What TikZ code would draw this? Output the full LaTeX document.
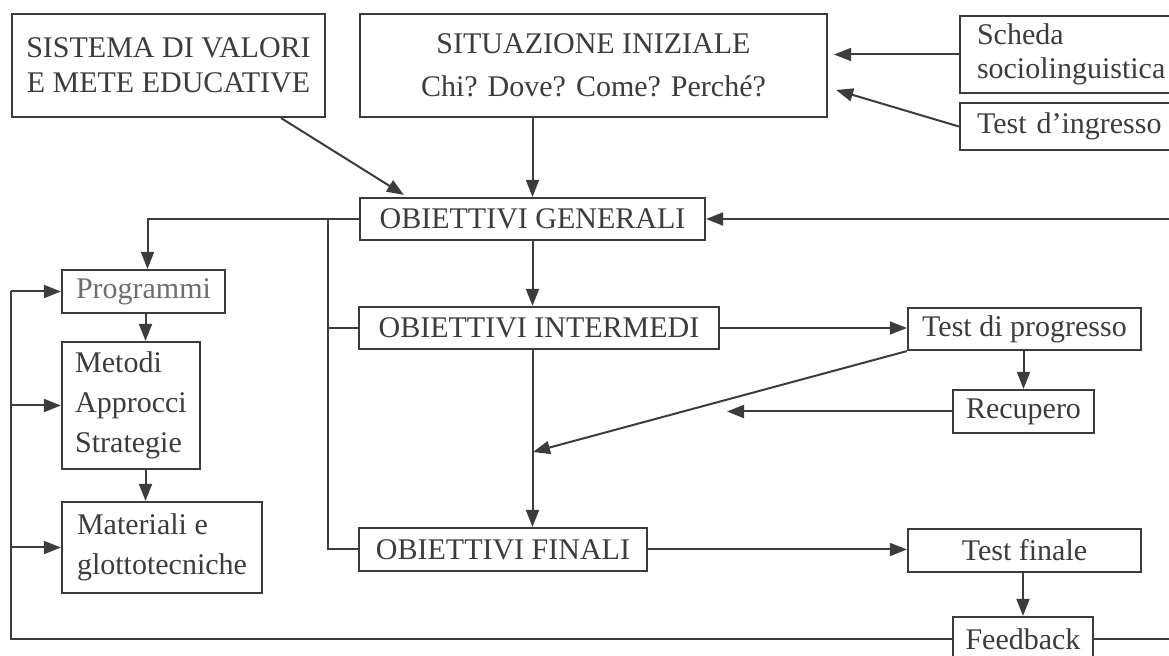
\documentclass[tikz,border=0pt]{standalone}
\usepackage{fontspec}
\setmainfont{Liberation Serif}
\usetikzlibrary{arrows.meta,calc}
\definecolor{ink}{HTML}{3C3C3C}
\definecolor{lightink}{HTML}{6E6E6E}
\begin{document}
\begin{tikzpicture}[x=0.5pt,y=-0.5pt,
  box/.style={draw=ink, line width=1.1pt, text=ink, inner sep=0pt, font=\fontsize{15}{20}\selectfont, align=center},
  lbox/.style={box, align=left, inner xsep=8.5pt, text width=98pt},
  line/.style={draw=ink, line width=1pt},
  arr/.style={line, -{Triangle[length=8.5pt,width=6.5pt]}},
]
\useasboundingbox (0,0) rectangle (1169,656);
\fill[white] (0,0) rectangle (1169,656);

% top row
\node[box, minimum width=156.5pt, minimum height=51.5pt, font=\fontsize{15}{17.5}\selectfont] (A) at (168.5,65.5) {SISTEMA DI VALORI\\E METE EDUCATIVE};
\node[box, minimum width=233.5pt, minimum height=51.5pt, font=\fontsize{15}{21.5}\selectfont] (B) at (593.5,65.5) {SITUAZIONE INIZIALE\\Chi? Dove? Come? Perché?};
\node[lbox, minimum height=38.5pt, font=\fontsize{15}{17}\selectfont] (C) at (1075,54.5) {Scheda\\sociolinguistica};
\node[lbox, minimum height=23.5pt] (D) at (1075,126.5) {Test d’ingresso};

% objectives
\node[box, minimum width=172.5pt, minimum height=21pt] (E) at (532.5,219) {OBIETTIVI GENERALI};
\node[box, minimum width=180pt, minimum height=21pt] (F) at (539,328) {OBIETTIVI INTERMEDI};
\node[box, minimum width=144pt, minimum height=21.5pt] (G) at (503,549.5) {OBIETTIVI FINALI};

% tests
\node[box, minimum width=116.5pt, minimum height=21pt] (H) at (1024.5,329) {Test di progresso};
\node[box, minimum width=70.5pt, minimum height=21.5pt] (I) at (1023.5,411.5) {Recupero};
\node[box, minimum width=116.5pt, minimum height=21.5pt] (J) at (1024.5,550.5) {Test finale};
\node[box, minimum width=70pt, minimum height=22.5pt] (K) at (1023,639.5) {Feedback};

% left column
\node[box, minimum width=81.5pt, minimum height=21.5pt, text=lightink] (L) at (143.5,291.5) {Programmi};
\node[box, minimum width=69pt, minimum height=63.5pt, align=left] (M) at (131,405.5) {Metodi\\Approcci\\Strategie};
\node[box, minimum width=100pt, minimum height=45.5pt, align=left] (N) at (162,547.5) {Materiali e\\glottotecniche};

% connectors
\draw[arr] (C.west) -- ($(B.east |- C.west)+(6,0)$);
\draw[arr] (D.west) -- ($(B.east)+(8,24.5)$);
\draw[arr] ($(A.south east)+(-45,0)$) -- ($(E.north west)+(45,-2)$);
\draw[arr] (E.north |- B.south) -- (E.north);
\draw[arr] (E.west) -| ($(L.north)+(4,0)$);
\draw[arr] ($(L.south)+(2,0)$) -- ($(L.south |- M.north)+(2,0)$);
\draw[arr] ($(M.south -| L.south)+(2,0)$) -- ($(N.north -| L.south)+(2,0)$);
\coordinate (spine) at (328,219);
\draw[line] (spine) |- (F.west);
\draw[line] (spine) |- (G.west);
\draw[arr] (E.south) -- (E.south |- F.north);
\draw[arr] (F.south -| E.south) -- (G.north -| E.south);
\draw[arr] (F.east) -- (H.west |- F.east);
\coordinate (join) at (533,452);
\draw[arr] (H.south west) -- (join);
\coordinate (recend) at (727,412);
\draw[arr] (I.west) -- (recend |- I.west);
\draw[arr] (I.north |- H.south) -- (I.north);
\draw[arr] (G.east) -- (J.west |- G.east);
\draw[arr] (J.south -| K.north) -- (K.north);
\coordinate (fbleft) at (11,0);
\draw[line] (K.west) -| (fbleft |- L.west);
\draw[arr] (fbleft |- L.west) -- (L.west);
\draw[arr] (fbleft |- M.west) -- (M.west);
\draw[arr] (fbleft |- N.west) -- (N.west);
\coordinate (fbright) at (1185,0);
\draw[arr] (K.east) -| (fbright |- E.east) -- (E.east);
\end{tikzpicture}
\end{document}
